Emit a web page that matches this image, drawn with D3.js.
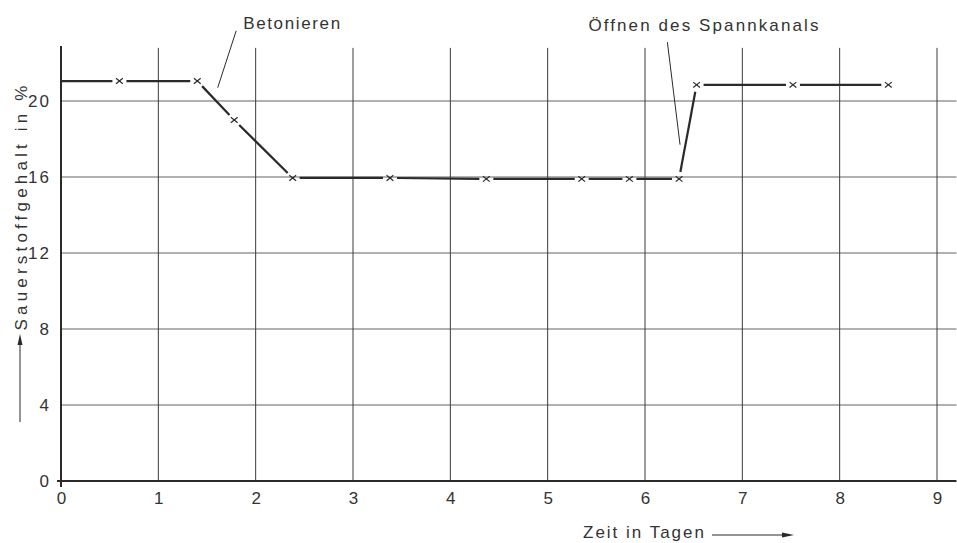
<!DOCTYPE html>
<html><head><meta charset="utf-8">
<script src="https://cdn.jsdelivr.net/npm/d3@7/dist/d3.min.js"></script>
<style>body{margin:0;background:#fff}svg{display:block}text{font-family:"Liberation Sans",Arial,sans-serif;fill:#333}</style>
</head><body><svg id="c" width="957" height="543"></svg>
<script>
// data
const days   = [0, 0.6, 1.4, 1.78, 2.38, 3.38, 4.37, 5.35, 5.84, 6.35, 6.53, 7.52, 8.5];
const oxygen = [21.05, 21.05, 21.05, 19.0, 15.95, 15.95, 15.9, 15.9, 15.9, 15.9, 20.85, 20.85, 20.85];
const hasMarker = [false, true, true, true, true, true, true, true, true, true, true, true, true];
const xTicks = [0,1,2,3,4,5,6,7,8,9];
const yTicks = [0,4,8,12,16,20];
const annotations = [
  {text:"Betonieren", tx:2.37, ty:23.8, from:[1.80,23.7], to:[1.61,20.7], width:97, size:17},
  {text:"Öffnen des Spannkanals", tx:6.60, ty:23.68, from:[6.23,23.1], to:[6.36,17.7], width:230, size:17}
];

const svg = d3.select("#c");
const x = d3.scaleLinear().domain([0,9]).range([61,937]);
const y = d3.scaleLinear().domain([0,20]).range([481,101]);
const ink = "#2a2a2a", grid = "#3a3a3a", txt = "#333";
const xMax = 9.2, yMax = 22.9;

// vertical grid
svg.append("g").selectAll("line").data(xTicks.filter(d=>d>0)).join("line")
  .attr("x1",d=>x(d)).attr("x2",d=>x(d)).attr("y1",y(yMax)+2).attr("y2",y(0))
  .attr("stroke",grid).attr("stroke-width",1);
// horizontal grid
svg.append("g").selectAll("line").data(yTicks.filter(d=>d>0)).join("line")
  .attr("x1",x(0)).attr("x2",x(xMax)).attr("y1",d=>y(d)).attr("y2",d=>y(d))
  .attr("stroke",grid).attr("stroke-width",0.8);

// axes
const xAxis = d3.axisBottom(x).tickValues(xTicks).tickSize(0).tickPadding(11);
const gx = svg.append("g").attr("transform",`translate(0,${y(0)})`).call(xAxis);
gx.select(".domain").remove();
gx.selectAll("text").attr("font-size",17).style("font-family","Liberation Sans").attr("fill",txt);
svg.append("line").attr("x1",x(0)-4).attr("x2",x(xMax)).attr("y1",y(0)).attr("y2",y(0)).attr("stroke",ink).attr("stroke-width",2);

const yAxis = d3.axisLeft(y).tickValues(yTicks).tickSize(0).tickPadding(10);
const gy = svg.append("g").attr("transform",`translate(${x(0)},0)`).call(yAxis);
gy.select(".domain").remove();
gy.selectAll("text").attr("font-size",17).style("font-family","Liberation Sans").attr("fill",txt).attr("letter-spacing",2);
svg.append("line").attr("x1",x(0)).attr("x2",x(0)).attr("y1",y(yMax)).attr("y2",y(0)+6).attr("stroke",ink).attr("stroke-width",2);

// data line with gaps around markers
const pts = days.map((d,i)=>({px:x(d),py:y(oxygen[i]),m:hasMarker[i]}));
const gap = 7;
const segs = [];
for(let i=0;i<pts.length-1;i++){
  const a=pts[i], b=pts[i+1];
  const dx=b.px-a.px, dy=b.py-a.py, L=Math.hypot(dx,dy);
  const ga=a.m?gap:0, gb=b.m?gap:0;
  segs.push({x1:a.px+dx*ga/L,y1:a.py+dy*ga/L,x2:b.px-dx*gb/L,y2:b.py-dy*gb/L});
}
svg.append("g").selectAll("line").data(segs).join("line")
  .attr("x1",d=>d.x1).attr("y1",d=>d.y1).attr("x2",d=>d.x2).attr("y2",d=>d.y2)
  .attr("stroke",ink).attr("stroke-width",2.2);
// markers
const ms=3.4;
const mg = svg.append("g").selectAll("g").data(pts.filter(p=>p.m)).join("g")
  .attr("transform",d=>`translate(${d.px},${d.py})`);
mg.append("line").attr("x1",-ms).attr("y1",-ms*0.8).attr("x2",ms).attr("y2",ms*0.8).attr("stroke",ink).attr("stroke-width",1.2);
mg.append("line").attr("x1",-ms).attr("y1",ms*0.8).attr("x2",ms).attr("y2",-ms*0.8).attr("stroke",ink).attr("stroke-width",1.2);

// annotations
annotations.forEach(a=>{
  svg.append("text").attr("x",x(a.tx)).attr("y",y(a.ty)).attr("text-anchor","middle")
    .attr("font-size",a.size).attr("textLength",a.width).attr("lengthAdjust","spacing").text(a.text);
  svg.append("line").attr("x1",x(a.from[0])).attr("y1",y(a.from[1])).attr("x2",x(a.to[0])).attr("y2",y(a.to[1]))
    .attr("stroke",ink).attr("stroke-width",1);
});

// axis titles
svg.append("text").attr("transform","translate(27,208) rotate(-90)").attr("text-anchor","middle")
  .attr("font-size",17).attr("textLength",245).attr("lengthAdjust","spacing").text("Sauerstoffgehalt in %");
svg.append("line").attr("x1",20).attr("x2",20).attr("y1",422).attr("y2",340).attr("stroke",ink).attr("stroke-width",1);
svg.append("path").attr("d","M20,334 L17.5,345 L22.5,345 Z").attr("fill",ink);

svg.append("text").attr("x",583).attr("y",538)
  .attr("font-size",17).attr("textLength",121).attr("lengthAdjust","spacing").text("Zeit in Tagen");
svg.append("line").attr("x1",712).attr("x2",788).attr("y1",535).attr("y2",535).attr("stroke",ink).attr("stroke-width",1);
svg.append("path").attr("d","M794,535 L782,532.5 L782,537.5 Z").attr("fill",ink);
</script></body></html>
